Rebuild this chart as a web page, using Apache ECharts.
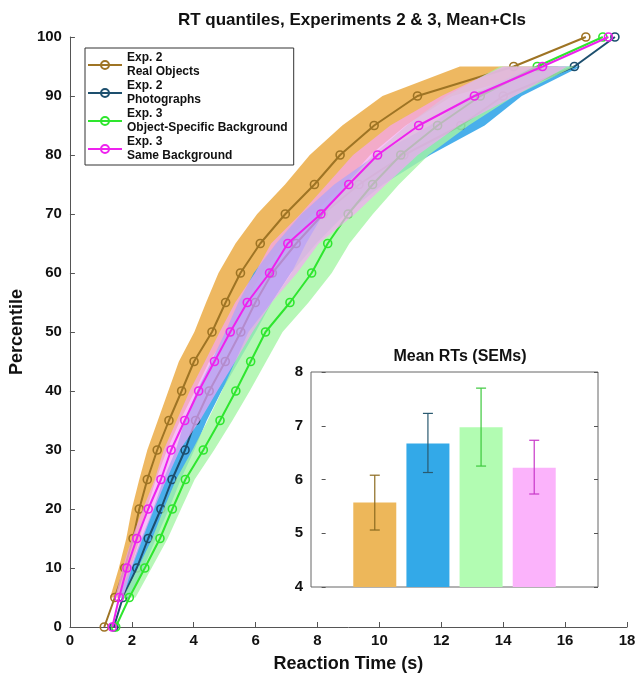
<!DOCTYPE html>
<html>
<head>
<meta charset="utf-8">
<script src="https://cdn.jsdelivr.net/npm/echarts@6/dist/echarts.min.js"></script>
<style>
  html, body { margin: 0; padding: 0; background: #fff; }
  #chart { width: 641px; height: 678px; }
</style>
</head>
<body>
<div id="chart"></div>
<script>
// percentiles of the quantile curves
const percentiles = [0, 5, 10, 15, 20, 25, 30, 35, 40, 45, 50, 55, 60, 65, 70, 75, 80, 85, 90, 95, 100];
// RT (s) at each percentile
const realObjects = [1.11, 1.45, 1.77, 2.04, 2.24, 2.50, 2.82, 3.20, 3.61, 4.01, 4.59, 5.03, 5.51, 6.15, 6.96, 7.90, 8.73, 9.83, 11.23, 14.34, 16.67];
const photographs = [1.42, 1.71, 2.16, 2.53, 2.94, 3.30, 3.72, 4.06, 4.50, 5.02, 5.52, 5.99, 6.54, 7.31, 8.18, 9.34, 10.79, 12.63, 14.00, 16.30, 17.61];
const objBackground = [1.48, 1.92, 2.42, 2.91, 3.31, 3.73, 4.31, 4.85, 5.36, 5.84, 6.32, 7.11, 7.81, 8.33, 8.99, 9.78, 10.69, 11.88, 13.26, 15.10, 17.22];
const sameBackground = [1.37, 1.59, 1.84, 2.16, 2.53, 2.94, 3.27, 3.71, 4.16, 4.67, 5.18, 5.73, 6.45, 7.04, 8.11, 9.01, 9.94, 11.27, 13.07, 15.27, 17.40];

// confidence bands (5th..95th percentile)
const bandPercentiles = [5, 10, 15, 20, 25, 30, 35, 40, 45, 50, 55, 60, 65, 70, 75, 80, 85, 90, 95];
const realLo = [1.30, 1.58, 1.82, 2.00, 2.24, 2.50, 2.84, 3.18, 3.52, 4.02, 4.40, 4.80, 5.35, 6.05, 6.95, 7.75, 8.80, 10.10, 12.60];
const realHi = [1.62, 1.96, 2.26, 2.48, 2.78, 3.14, 3.56, 4.04, 4.50, 5.16, 5.66, 6.22, 6.95, 7.85, 8.85, 9.70, 10.85, 12.35, 15.80];
const photoLo = [1.56, 1.96, 2.31, 2.69, 3.02, 3.42, 3.71, 4.10, 4.57, 5.02, 5.44, 5.94, 6.66, 7.48, 8.54, 9.89, 11.63, 12.90, 15.00];
const photoHi = [1.91, 2.38, 2.78, 3.20, 3.58, 4.02, 4.42, 4.90, 5.45, 6.00, 6.52, 7.14, 7.96, 8.90, 10.12, 11.64, 13.40, 14.60, 16.50];
const objLo = [1.72, 2.20, 2.66, 3.03, 3.43, 3.96, 4.45, 4.91, 5.34, 5.77, 6.51, 7.16, 7.63, 8.19, 8.93, 9.79, 10.88, 12.16, 13.90];
const objHi = [2.12, 2.64, 3.16, 3.59, 4.03, 4.66, 5.25, 5.81, 6.34, 6.87, 7.71, 8.46, 9.03, 9.79, 10.63, 11.59, 12.88, 14.36, 16.30];
const sameLo = [1.46, 1.70, 2.00, 2.36, 2.74, 3.03, 3.45, 3.87, 4.36, 4.84, 5.34, 5.98, 6.50, 7.45, 8.30, 9.15, 10.35, 12.00, 14.00];
const sameHi = [1.72, 2.00, 2.35, 2.72, 3.12, 3.55, 4.20, 4.76, 5.34, 5.90, 6.52, 7.34, 8.04, 9.21, 10.21, 11.24, 12.57, 14.37, 16.07];

// inset: mean RTs with SEMs
const barPositions = [1, 2, 3, 4];
const meanRT = [5.57, 6.67, 6.97, 6.22];
const semLo = [5.06, 6.13, 6.25, 5.73];
const semHi = [6.08, 7.23, 7.70, 6.73];

const names = ['Exp. 2\nReal Objects', 'Exp. 2\nPhotographs', 'Exp. 3\nObject-Specific Background', 'Exp. 3\nSame Background'];
const lineColors = ['#9E7424', '#1D4F6E', '#2EE62E', '#EE22EE'];
const bandColors = ['rgba(236,176,80,0.9)', 'rgba(48,164,232,0.88)', 'rgba(165,245,165,0.8)', 'rgba(245,165,245,0.7)'];
const barColors = ['#EDB75A', '#33A9E8', '#B2FCB2', '#FBB3FB'];
const errColors = ['#8B6A1F', '#2A5A70', '#3CC83C', '#C838C8'];

const FONT = '"Liberation Sans", Arial, sans-serif';

// each band is drawn right under its own line, later series on top
function band(lo, hi, color, z) {
  return {
    type: 'custom',
    xAxisIndex: 0, yAxisIndex: 0,
    z: z,
    data: [[lo[0], bandPercentiles[0]]],
    silent: true,
    renderItem: function (params, api) {
      const pts = [];
      for (let i = 0; i < lo.length; i++) pts.push(api.coord([lo[i], bandPercentiles[i]]));
      for (let i = hi.length - 1; i >= 0; i--) pts.push(api.coord([hi[i], bandPercentiles[i]]));
      return { type: 'polygon', shape: { points: pts }, style: { fill: color } };
    }
  };
}

function quantLine(name, values, color, z) {
  return {
    type: 'line',
    name: name,
    xAxisIndex: 0, yAxisIndex: 0,
    z: z,
    data: values.map((v, i) => [v, percentiles[i]]),
    symbol: 'circle',
    symbolSize: 8,
    showAllSymbol: true,
    lineStyle: { color: color, width: 2 },
    itemStyle: { color: 'rgba(255,255,255,0)', borderColor: color, borderWidth: 1.6 },
    emphasis: { disabled: true }
  };
}

const chart = echarts.init(document.getElementById('chart'));
chart.setOption({
  animation: false,
  backgroundColor: '#fff',
  textStyle: { fontFamily: FONT },
  title: [
    { text: 'RT quantiles, Experiments 2 & 3, Mean+CIs', left: 347, top: 7, textAlign: 'center',
      textStyle: { fontSize: 17, fontWeight: 'bold', color: '#111', fontFamily: FONT } },
    { text: 'Mean RTs (SEMs)', left: 455, top: 344, textAlign: 'center',
      textStyle: { fontSize: 16, fontWeight: 'bold', color: '#111', fontFamily: FONT } }
  ],
  legend: {
    data: names,
    orient: 'vertical',
    left: 85, top: 48,
    z: 30,
    itemWidth: 34, itemHeight: 10,
    itemGap: 0,
    padding: [3, 6, 2, 2],
    borderColor: '#333', borderWidth: 1,
    backgroundColor: '#fff',
    textStyle: { fontSize: 12, fontWeight: 'bold', color: '#111', lineHeight: 14, fontFamily: FONT },
    selectedMode: false
  },
  grid: [
    { left: 68, right: 14, top: 37, bottom: 51 },
    { left: 311, top: 372, width: 287, height: 215, show: true, backgroundColor: '#fff', borderColor: '#666', borderWidth: 1, z: 20 }
  ],
  xAxis: [
    {
      type: 'value', gridIndex: 0, min: 0, max: 18, interval: 2,
      name: 'Reaction Time (s)', nameLocation: 'middle', nameGap: 28,
      nameTextStyle: { fontSize: 18, fontWeight: 'bold', color: '#111', fontFamily: FONT },
      axisLine: { lineStyle: { color: '#555', width: 1 } },
      axisTick: { inside: true, length: 5, lineStyle: { color: '#555' } },
      axisLabel: { fontSize: 15, fontWeight: 'bold', color: '#111', margin: 6 },
      splitLine: { show: false }
    },
    {
      type: 'value', gridIndex: 1, min: -0.2, max: 5.2,
      axisLine: { show: false }, axisTick: { show: false }, axisLabel: { show: false }, splitLine: { show: false }
    }
  ],
  yAxis: [
    {
      type: 'value', gridIndex: 0, min: 0, max: 100, interval: 10,
      name: 'Percentile', nameLocation: 'middle', nameGap: 41, nameRotate: 90,
      nameTextStyle: { fontSize: 18, fontWeight: 'bold', color: '#111', fontFamily: FONT },
      axisLine: { show: true, lineStyle: { color: '#555', width: 1 } },
      axisTick: { show: true, inside: true, length: 5, lineStyle: { color: '#555' } },
      axisLabel: { fontSize: 15, fontWeight: 'bold', color: '#111', margin: 8 },
      splitLine: { show: false }
    },
    {
      type: 'value', gridIndex: 1, min: 4, max: 8, interval: 1, z: 24,
      axisLine: { show: false },
      axisTick: { show: true, inside: true, length: 4, lineStyle: { color: '#555' } },
      axisLabel: { fontSize: 15, fontWeight: 'bold', color: '#111', margin: 8 },
      splitLine: { show: false }
    },
    {
      type: 'value', gridIndex: 1, min: 4, max: 8, interval: 1, position: 'right', z: 24,
      axisLine: { show: false },
      axisTick: { show: true, inside: true, length: 4, lineStyle: { color: '#555' } },
      axisLabel: { show: false },
      splitLine: { show: false }
    }
  ],
  series: [
    band(realLo, realHi, bandColors[0], 2),
    quantLine(names[0], realObjects, lineColors[0], 3),
    band(photoLo, photoHi, bandColors[1], 4),
    quantLine(names[1], photographs, lineColors[1], 5),
    band(objLo, objHi, bandColors[2], 6),
    quantLine(names[2], objBackground, lineColors[2], 7),
    band(sameLo, sameHi, bandColors[3], 8),
    quantLine(names[3], sameBackground, lineColors[3], 9),
    {
      type: 'bar',
      xAxisIndex: 1, yAxisIndex: 1,
      barWidth: 43,
      z: 21,
      data: barPositions.map((x, i) => ({ value: [x, meanRT[i]], itemStyle: { color: barColors[i] } }))
    },
    {
      type: 'custom',
      xAxisIndex: 1, yAxisIndex: 1,
      z: 22,
      data: barPositions.map((x, i) => [x, semLo[i], semHi[i], i]),
      renderItem: function (params, api) {
        const lo = api.coord([api.value(0), api.value(1)]);
        const hi = api.coord([api.value(0), api.value(2)]);
        const c = errColors[api.value(3)];
        const w = 5;
        const st = { stroke: c, lineWidth: 1.2 };
        return {
          type: 'group',
          children: [
            { type: 'line', shape: { x1: lo[0], y1: lo[1], x2: hi[0], y2: hi[1] }, style: st },
            { type: 'line', shape: { x1: lo[0] - w, y1: lo[1], x2: lo[0] + w, y2: lo[1] }, style: st },
            { type: 'line', shape: { x1: hi[0] - w, y1: hi[1], x2: hi[0] + w, y2: hi[1] }, style: st }
          ]
        };
      }
    }
  ]
});
</script>
</body>
</html>
